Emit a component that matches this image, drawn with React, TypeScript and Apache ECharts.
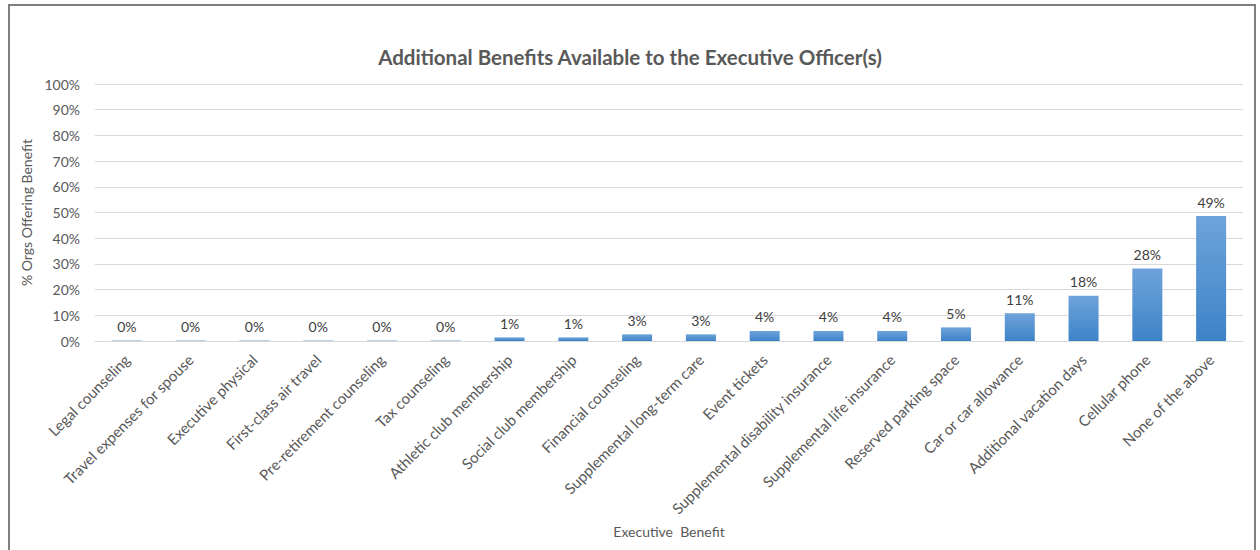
import React, { useEffect, useRef } from "react";
import * as echarts from "echarts";

const titleText = "Additional Benefits Available to the Executive Officer(s)";
const categories = [
  "Legal counseling",
  "Travel expenses for spouse",
  "Executive physical",
  "First-class air travel",
  "Pre-retirement counseling",
  "Tax counseling",
  "Athletic club membership",
  "Social club membership",
  "Financial counseling",
  "Supplemental long-term care",
  "Event tickets",
  "Supplemental disability insurance",
  "Supplemental life insurance",
  "Reserved parking space",
  "Car or car allowance",
  "Additional vacation days",
  "Cellular phone",
  "None of the above",
];
const values = [0.2, 0.2, 0.2, 0.2, 0.2, 0.2, 1.4, 1.4, 2.6, 2.6, 3.9, 3.9, 3.9, 5.3, 10.8, 17.6, 28.2, 48.6];
const valueLabels = ["0%", "0%", "0%", "0%", "0%", "0%", "1%", "1%", "3%", "3%", "4%", "4%", "4%", "5%", "11%", "18%", "28%", "49%"];
const yAxisName = "% Orgs Offering Benefit";
const xAxisName = "Executive  Benefit";

const FONT = "Lato, 'Open Sans', sans-serif";

export default function App() {
  const ref = useRef<HTMLDivElement>(null);
  useEffect(() => {
    if (!ref.current) return;
    const chart = echarts.init(ref.current, undefined, { renderer: "svg" });
    chart.setOption({
      animation: false,
      backgroundColor: "#ffffff",
      textStyle: { fontFamily: FONT },
      title: {
        text: titleText,
        left: "center",
        top: 41,
        textStyle: { fontFamily: FONT, fontSize: 20.5, fontWeight: "bold", color: "#595959" },
      },
      grid: { left: 95, right: 17, top: 84, bottom: 209, containLabel: false },
      xAxis: {
        type: "category",
        data: categories,
        name: xAxisName,
        nameLocation: "middle",
        nameGap: 183,
        nameTextStyle: { fontFamily: FONT, fontSize: 14, color: "#595959" },
        axisLine: { lineStyle: { color: "#d9d9d9" } },
        axisTick: { show: false },
        axisLabel: { rotate: 45, interval: 0, color: "#595959", fontSize: 15, fontFamily: FONT, margin: 16 },
      },
      yAxis: {
        type: "value",
        min: 0,
        max: 100,
        interval: 10,
        name: yAxisName,
        nameLocation: "middle",
        nameGap: 51,
        nameTextStyle: { fontFamily: FONT, fontSize: 14, color: "#595959" },
        axisLine: { show: false },
        axisTick: { show: false },
        splitLine: { lineStyle: { color: "#d9d9d9" } },
        axisLabel: { formatter: "{value}%", color: "#595959", fontSize: 14, fontFamily: FONT, margin: 15 },
      },
      series: [
        {
          type: "bar",
          data: values,
          barWidth: 30,
          itemStyle: {
            color: new echarts.graphic.LinearGradient(0, 0, 0, 1, [
              { offset: 0, color: "#6ea3da" },
              { offset: 1, color: "#3d83c8" },
            ]),
          },
          label: {
            show: true,
            position: "top",
            distance: 7,
            color: "#404040",
            fontSize: 14,
            fontFamily: FONT,
            formatter: (p: any) => valueLabels[p.dataIndex],
          },
        },
      ],
    });
    return () => chart.dispose();
  }, []);
  return (
    <div style={{ position: "fixed", left: 0, top: 0, width: 1260, height: 550, background: "#fff" }}>
      <div ref={ref} style={{ position: "absolute", left: 0, top: 0, width: 1260, height: 550 }} />
      <div
        style={{
          position: "absolute",
          left: 8,
          top: 4,
          width: 1248,
          height: 600,
          border: "2px solid #7f7f7f",
          boxSizing: "border-box",
          pointerEvents: "none",
        }}
      />
    </div>
  );
}
